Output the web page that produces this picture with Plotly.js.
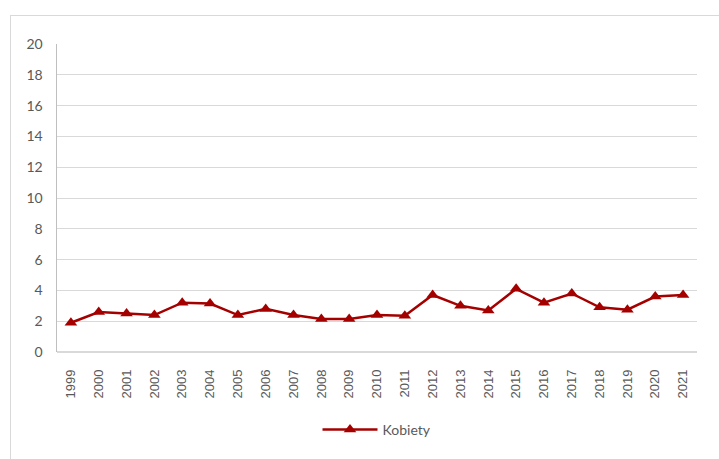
<!DOCTYPE html>
<html>
<head>
<meta charset="utf-8">
<script src="https://cdn.plot.ly/plotly-3.0.1.min.js"></script>
<style>
  html, body { margin: 0; padding: 0; background: #fff; }
  #frame { position: absolute; left: 10px; top: 15px; width: 720px; height: 460px; border: 1px solid #d9d9d9; box-sizing: border-box; }
  #chart { position: absolute; left: 0; top: 0; width: 719px; height: 459px; }
</style>
</head>
<body>
<div id="frame"></div>
<div id="chart"></div>
<script>
const years = ["1999","2000","2001","2002","2003","2004","2005","2006","2007","2008","2009","2010","2011","2012","2013","2014","2015","2016","2017","2018","2019","2020","2021"];
const kobiety = [1.9, 2.6, 2.5, 2.4, 3.2, 3.15, 2.4, 2.8, 2.4, 2.15, 2.15, 2.4, 2.35, 3.7, 3.0, 2.7, 4.1, 3.2, 3.8, 2.9, 2.75, 3.6, 3.7];
const yTicks = [0, 2, 4, 6, 8, 10, 12, 14, 16, 18, 20];

const trace = {
  x: years, y: kobiety, name: "Kobiety", type: "scatter", mode: "lines+markers",
  line: {color: "#a50000", width: 2.5},
  marker: {symbol: "triangle-up", size: 11, color: "#a50000"}
};

const layout = {
  width: 719, height: 459,
  margin: {l: 57, r: 22, t: 44, b: 107},
  paper_bgcolor: "rgba(0,0,0,0)", plot_bgcolor: "#fff",
  showlegend: true,
  legend: {orientation: "h", x: 0.5, xanchor: "center", y: -0.253, yanchor: "middle", itemwidth: 55,
           font: {family: "Lato, 'Open Sans', sans-serif", size: 14, color: "#595959"}},
  xaxis: {type: "category", tickangle: -90, showgrid: false, showline: false, zeroline: false,
          ticks: "", ticklabelstandoff: 14,
          tickfont: {family: "'Liberation Sans', Arial, sans-serif", size: 13, color: "#595959"},
          range: [-0.5, years.length - 0.5]},
  yaxis: {range: [0, 20], tickvals: yTicks, ticktext: yTicks.map(String),
          showgrid: true, gridcolor: "#d9d9d9", gridwidth: 1,
          showline: true, linecolor: "#bfbfbf", linewidth: 1.5,
          zeroline: true, zerolinecolor: "#d9d9d9", zerolinewidth: 1.5,
          ticks: "", ticklen: 0, ticklabelstandoff: 10,
          tickfont: {family: "Lato, 'Open Sans', sans-serif", size: 14, color: "#595959"}}
};

Plotly.newPlot("chart", [trace], layout, {displayModeBar: false, staticPlot: true});
</script>
</body>
</html>
